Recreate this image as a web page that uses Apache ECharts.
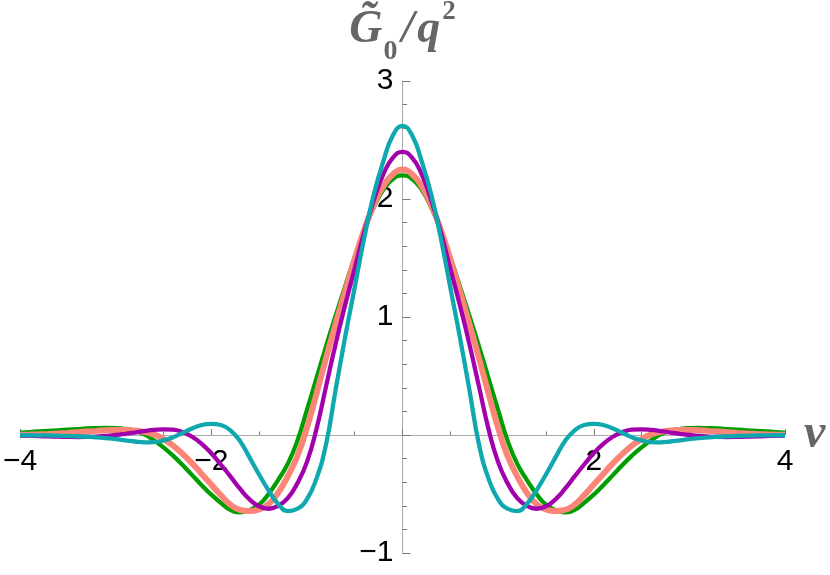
<!DOCTYPE html>
<html>
<head>
<meta charset="utf-8">
<script src="https://cdn.jsdelivr.net/npm/echarts@6/dist/echarts.min.js"></script>
<style>
  html, body { margin: 0; padding: 0; background: #fff; }
  #main { width: 830px; height: 575px; }
</style>
</head>
<body>
<div id="main"></div>
<script>
// nu values, step 0.1
const nu = [
  -4.0, -3.9, -3.8, -3.7, -3.6, -3.5, -3.4, -3.3, -3.2, -3.1,
  -3.0, -2.9, -2.8, -2.7, -2.6, -2.5, -2.4, -2.3, -2.2, -2.1,
  -2.0, -1.9, -1.8, -1.7, -1.6, -1.5, -1.4, -1.3, -1.2, -1.1,
  -1.0, -0.9, -0.8, -0.7, -0.6, -0.5, -0.4, -0.3, -0.2, -0.1,
  0,
  0.1, 0.2, 0.3, 0.4, 0.5, 0.6, 0.7, 0.8, 0.9, 1.0,
  1.1, 1.2, 1.3, 1.4, 1.5, 1.6, 1.7, 1.8, 1.9, 2.0,
  2.1, 2.2, 2.3, 2.4, 2.5, 2.6, 2.7, 2.8, 2.9, 3.0,
  3.1, 3.2, 3.3, 3.4, 3.5, 3.6, 3.7, 3.8, 3.9, 4.0
]

const greenVals = [
  0.02, 0.025, 0.03, 0.035, 0.04, 0.045, 0.05, 0.055, 0.058, 0.06,
  0.058, 0.05, 0.035, 0.005, -0.045, -0.105, -0.175, -0.255, -0.34, -0.425,
  -0.505, -0.575, -0.635, -0.655, -0.635, -0.59, -0.50, -0.38, -0.245, -0.05,
  0.21, 0.48, 0.75, 1.01, 1.26, 1.51, 1.74, 1.93, 2.08, 2.17,
  2.20,
  2.17, 2.08, 1.93, 1.74, 1.51, 1.26, 1.01, 0.75, 0.48, 0.21,
  -0.05, -0.245, -0.38, -0.50, -0.59, -0.635, -0.655, -0.635, -0.575, -0.505,
  -0.425, -0.34, -0.255, -0.175, -0.105, -0.045, 0.005, 0.035, 0.05, 0.058,
  0.06, 0.058, 0.055, 0.05, 0.045, 0.04, 0.035, 0.03, 0.025, 0.02
]

const salmonVals = [
  0.003, 0.004, 0.006, 0.009, 0.013, 0.018, 0.024, 0.03, 0.035, 0.04,
  0.043, 0.043, 0.038, 0.025, 0.005, -0.035, -0.09, -0.16, -0.24, -0.33,
  -0.42, -0.51, -0.59, -0.635, -0.645, -0.63, -0.585, -0.49, -0.35, -0.18,
  0.06, 0.35, 0.65, 0.94, 1.22, 1.49, 1.74, 1.95, 2.11, 2.21,
  2.25,
  2.21, 2.11, 1.95, 1.74, 1.49, 1.22, 0.94, 0.65, 0.35, 0.06,
  -0.18, -0.35, -0.49, -0.585, -0.63, -0.645, -0.635, -0.59, -0.51, -0.42,
  -0.33, -0.24, -0.16, -0.09, -0.035, 0.005, 0.025, 0.038, 0.043, 0.043,
  0.04, 0.035, 0.03, 0.024, 0.018, 0.013, 0.009, 0.006, 0.004, 0.003
]

const purpleVals = [
  -0.005, -0.007, -0.009, -0.012, -0.014, -0.016, -0.017, -0.016, -0.013, -0.008,
  0.0, 0.01, 0.021, 0.033, 0.043, 0.048, 0.045, 0.025, -0.015, -0.075,
  -0.155, -0.25, -0.35, -0.455, -0.545, -0.605, -0.625, -0.60, -0.535, -0.41,
  -0.23, 0.05, 0.41, 0.77, 1.10, 1.41, 1.72, 1.99, 2.21, 2.35,
  2.40,
  2.35, 2.21, 1.99, 1.72, 1.41, 1.10, 0.77, 0.41, 0.05, -0.23,
  -0.41, -0.535, -0.60, -0.625, -0.605, -0.545, -0.455, -0.35, -0.25, -0.155,
  -0.075, -0.015, 0.025, 0.045, 0.048, 0.043, 0.033, 0.021, 0.01, 0.0,
  -0.008, -0.013, -0.016, -0.017, -0.016, -0.014, -0.012, -0.009, -0.007, -0.005
]

const cyanVals = [
  -0.002, -0.002, -0.003, -0.004, -0.006, -0.008, -0.011, -0.015, -0.02, -0.027,
  -0.035, -0.045, -0.055, -0.062, -0.06, -0.046, -0.02, 0.018, 0.055, 0.085,
  0.095, 0.085, 0.04, -0.05, -0.19, -0.335, -0.47, -0.585, -0.645, -0.625,
  -0.545, -0.37, -0.08, 0.38, 0.83, 1.25, 1.67, 2.04, 2.32, 2.54,
  2.62,
  2.54, 2.32, 2.04, 1.67, 1.25, 0.83, 0.38, -0.08, -0.37, -0.545,
  -0.625, -0.645, -0.585, -0.47, -0.335, -0.19, -0.05, 0.04, 0.085, 0.095,
  0.085, 0.055, 0.018, -0.02, -0.046, -0.06, -0.062, -0.055, -0.045, -0.035,
  -0.027, -0.02, -0.015, -0.011, -0.008, -0.006, -0.004, -0.003, -0.002, -0.002
]

const curves = [
  {vals: greenVals, color: '#009e00', width: 4.3},
  {vals: salmonVals, color: '#fb8576', width: 6},
  {vals: purpleVals, color: '#a200ac', width: 4.3},
  {vals: cyanVals, color: '#0fa8ae', width: 4.3}
]

const tickFmt = v => v === 0 ? '' : (v < 0 ? '\u2212' + (-v) : String(v))

const labelStyle = {
  color: '#000',
  fontSize: 30,
  fontFamily: 'Liberation Sans'
}

const nameSerif = {
  fontFamily: 'Liberation Serif',
  fontWeight: 'bold',
  color: '#666'
}

// plot box: x -4..4 -> 20..785, y -1..3 -> 553..81
const gridLeft = 20, gridRight = 45, gridTop = 81, gridBottom = 22
const plotW = 830 - gridLeft - gridRight
const plotH = 575 - gridTop - gridBottom
// axes drawn through the origin (Mathematica style)
const yAxisOffset = -plotW / 2
const xAxisOffset = -plotH / 4

const option = {
  animation: false,
  grid: {left: gridLeft, right: gridRight, top: gridTop, bottom: gridBottom, outerBoundsMode: 'none'},
  xAxis: {
    type: 'value',
    min: -4,
    max: 4,
    interval: 2,
    position: 'bottom',
    offset: xAxisOffset,
    axisLine: {onZero: false, lineStyle: {color: '#aaa', width: 1}},
    axisTick: {inside: true, length: 6, lineStyle: {color: '#777'}},
    minorTick: {show: true, splitNumber: 4, length: 3.5, lineStyle: {color: '#777'}},
    splitLine: {show: false},
    axisLabel: Object.assign({formatter: tickFmt, margin: 12}, labelStyle),
    name: 'ν',
    nameLocation: 'end',
    nameGap: 19,
    nameTextStyle: Object.assign({fontSize: 48, fontStyle: 'italic', padding: [7, 0, 0, 0]}, nameSerif)
  },
  yAxis: {
    type: 'value',
    min: -1,
    max: 3,
    interval: 1,
    position: 'left',
    offset: yAxisOffset,
    axisLine: {onZero: false, lineStyle: {color: '#aaa', width: 1}},
    axisTick: {inside: true, length: 8, lineStyle: {color: '#777'}},
    minorTick: {show: true, splitNumber: 5, length: 4.5, lineStyle: {color: '#777'}},
    splitLine: {show: false},
    axisLabel: Object.assign({formatter: tickFmt, margin: 9}, labelStyle),
    name: '{g|G\u0303}{s|0}{sl|/}{g|q}{p|2}',
    nameLocation: 'end',
    nameGap: 16,
    nameTextStyle: {
      rich: {
        g: Object.assign({fontSize: 46, fontStyle: 'italic', lineHeight: 64}, nameSerif),
        sl: Object.assign({fontSize: 46, fontStyle: 'italic', lineHeight: 64, padding: [0, 3, 0, 3]}, nameSerif),
        s: Object.assign({fontSize: 28, height: 20, verticalAlign: 'bottom', padding: [0, 1, 0, 1]}, nameSerif),
        p: Object.assign({fontSize: 27, height: 28, verticalAlign: 'top', padding: [0, 0, 0, 2]}, nameSerif)
      }
    }
  },
  series: curves.map(c => ({
    type: 'line',
    data: nu.map((x, i) => [x, c.vals[i]]),
    smooth: true,
    showSymbol: false,
    lineStyle: {color: c.color, width: c.width}
  }))
}

const chart = echarts.init(document.getElementById('main'))
chart.setOption(option)
</script>
</body>
</html>
